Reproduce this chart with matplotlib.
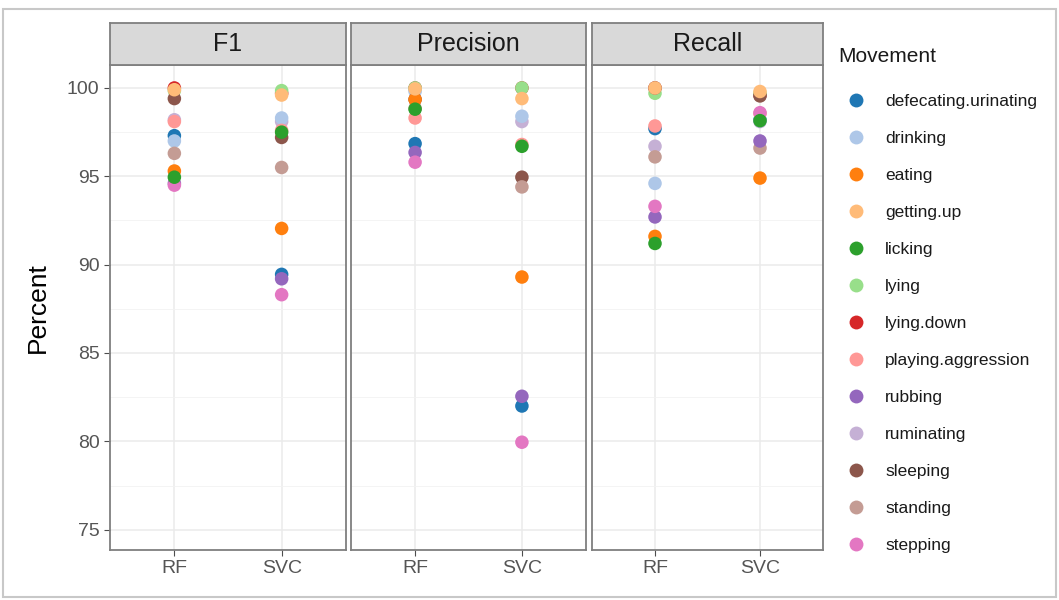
import matplotlib.pyplot as plt
from matplotlib.lines import Line2D
from matplotlib.patches import Rectangle

plt.rcParams["font.family"] = ["Liberation Sans", "DejaVu Sans"]

movements = ["defecating.urinating", "drinking", "eating", "getting.up", "licking",
             "lying", "lying.down", "playing.aggression", "rubbing", "ruminating",
             "sleeping", "standing", "stepping"]
colors = ["#1f77b4", "#aec7e8", "#ff7f0e", "#ffbb78", "#2ca02c", "#98df8a", "#d62728",
          "#ff9896", "#9467bd", "#c5b0d5", "#8c564b", "#c49c94", "#e377c2"]
models = ["RF", "SVC"]
metrics = ["F1", "Precision", "Recall"]

# values per movement (same order as movements)
f1_rf = [97.3, 97.0, 95.3, 99.9, 94.95, 99.85, 100.0, 98.1, 94.6, 98.2, 99.4, 96.3, 94.5]
f1_svc = [89.45, 98.3, 92.05, 99.6, 97.5, 99.85, 99.7, 97.6, 89.2, 98.1, 97.2, 95.5, 88.3]
prec_rf = [96.85, 99.8, 99.35, 99.95, 98.8, 100.0, 100.0, 98.3, 96.35, 99.9, 99.35, 98.85, 95.8]
prec_svc = [82.0, 98.4, 89.3, 99.4, 96.7, 100.0, 100.0, 96.8, 82.55, 98.1, 94.95, 94.4, 79.95]
rec_rf = [97.7, 94.6, 91.6, 100.0, 91.2, 99.7, 100.0, 97.85, 92.7, 96.7, 100.0, 96.1, 93.3]
rec_svc = [98.2, 98.15, 94.9, 99.8, 98.15, 99.7, 99.6, 98.55, 97.0, 98.1, 99.55, 96.6, 98.6]

data = {
    "F1": [f1_rf, f1_svc],
    "Precision": [prec_rf, prec_svc],
    "Recall": [rec_rf, rec_svc],
}

# drawing order of the points (overlaps)
draw_order = [6, 9, 0, 1, 7, 5, 10, 11, 8, 12, 2, 4, 3]

W, H = 1059, 600
fig = plt.figure(figsize=(W / 100, H / 100), dpi=100)


def frac(x0, y0, x1, y1):
    return [x0 / W, 1 - y1 / H, (x1 - x0) / W, (y1 - y0) / H]


# outer frame
fig.patches.append(Rectangle((3 / W, 3 / H), 1 - 6 / W, 1 - 12 / H, transform=fig.transFigure,
                             fill=False, edgecolor="#c8c8c8", lw=1.5))

panel_x = [(110, 346), (351, 586), (592, 823)]
ptop, pbot, stop = 65, 550, 23

for i, metric in enumerate(metrics):
    x0, x1 = panel_x[i]
    ax = fig.add_axes(frac(x0, ptop, x1, pbot))
    ax.set_xlim(0.4, 2.6)
    ax.set_ylim(73.85, 101.3)
    ax.set_yticks([75, 80, 85, 90, 95, 100])
    ax.set_yticks([77.5, 82.5, 87.5, 92.5, 97.5], minor=True)
    ax.set_xticks([1, 2])
    ax.set_xticklabels(models)
    ax.grid(which="major", color="#ebebeb", lw=1.1)
    ax.grid(which="minor", axis="y", color="#f2f2f2", lw=0.6)
    ax.set_axisbelow(True)
    for s in ax.spines.values():
        s.set_color("#7f7f7f")
        s.set_linewidth(1.3)
    ax.tick_params(axis="both", which="major", length=4, color="#4d4d4d",
                   labelsize=14, labelcolor="#555555")
    ax.tick_params(which="minor", length=0)
    if i > 0:
        ax.tick_params(axis="y", labelleft=False, length=0)
    else:
        ax.set_ylabel("Percent", fontsize=19, labelpad=12)

    for j, vals in enumerate(data[metric]):
        for k in draw_order:
            ax.scatter(j + 1, vals[k], s=95, color=colors[k], edgecolors="none", zorder=3)

    sax = fig.add_axes(frac(x0, stop, x1, ptop))
    sax.set_xticks([])
    sax.set_yticks([])
    sax.set_facecolor("#d9d9d9")
    for s in sax.spines.values():
        s.set_color("#7f7f7f")
        s.set_linewidth(1.3)
    sax.text(0.5, 0.5, metric, ha="center", va="center", fontsize=18, color="#1a1a1a",
             transform=sax.transAxes)

fig.text(838 / W, 1 - 57 / H, "Movement", fontsize=15, va="center", ha="left", color="#1a1a1a")

handles = [Line2D([], [], marker="o", ls="", markersize=10, markerfacecolor=c,
                  markeredgecolor="none") for c in colors]
leg = fig.legend(handles, movements, loc="upper left",
                 bbox_to_anchor=(832 / W, 1 - 87 / H), frameon=False, fontsize=12.5,
                 labelspacing=1.26, handletextpad=0.67, borderaxespad=0)
for t in leg.get_texts():
    t.set_color("#1a1a1a")

fig.savefig("out.png", dpi=100)
